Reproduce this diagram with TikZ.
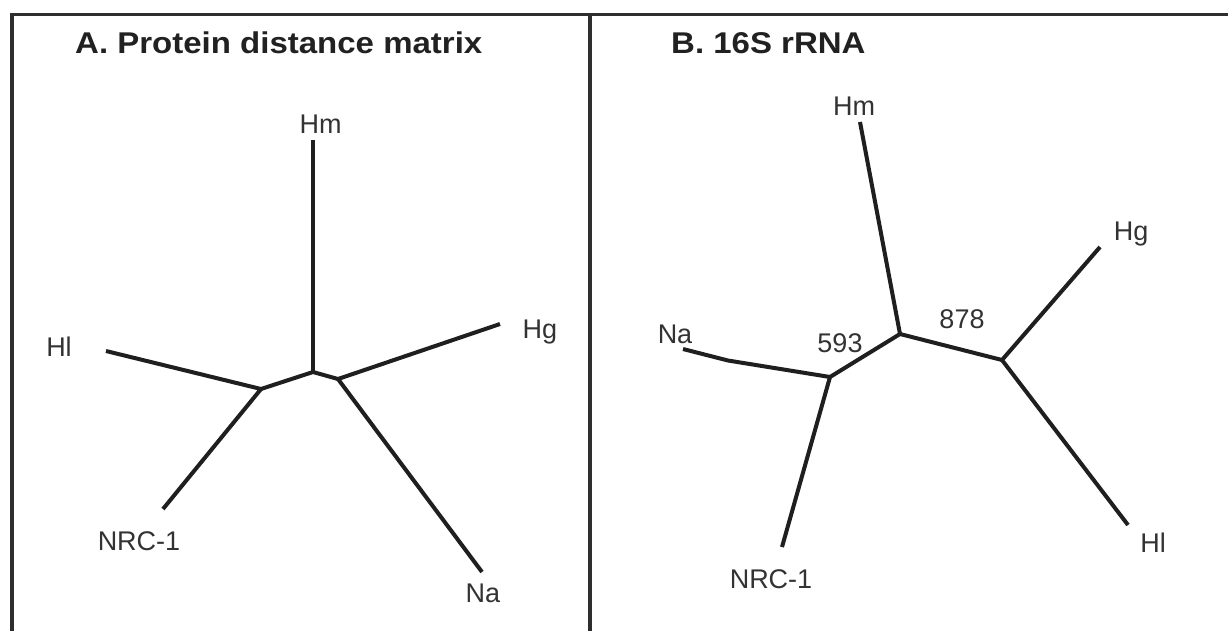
\documentclass[tikz,border=0pt]{standalone}
\usepackage{fontspec}
\setmainfont{Liberation Sans}
\newfontfamily\titlefont[FakeStretch=1.1]{Liberation Sans}
\begin{document}
\begin{tikzpicture}[x=1pt,y=-1pt,
  frame/.style={line width=3.8pt,draw=black!82},
  branch/.style={line width=4pt,draw=black!88,line cap=butt,line join=miter},
  taxon/.style={font=\fontsize{27}{27}\selectfont,text=black!80,anchor=base,inner sep=0pt},
  boot/.style={font=\fontsize{27}{27}\selectfont,text=black!80,anchor=base,inner sep=0pt},
  paneltitle/.style={font=\titlefont\bfseries\fontsize{30}{30}\selectfont,text=black!87,anchor=base west,inner sep=0pt}]
\useasboundingbox[fill=white] (0,0) rectangle (1228,630);
% frame
\coordinate (fTL) at (12,14.5);
\coordinate (fTR) at (1230,14.5);
\coordinate (fBL) at (12,632);
\coordinate (dT) at (590,14.5);
\coordinate (dB) at (590,632);
\draw[frame] (fBL) -- (fTL) -- (fTR);
\draw[frame] (dT) -- (dB);
% titles
\node[paneltitle] (tA) at (75,53.5) {A. Protein distance matrix};
\node[paneltitle] (tB) at (671,53.5) {B. 16S rRNA};
% ---------- Panel A ----------
\coordinate (a1) at (313,372);
\coordinate (a2) at (261,389);
\coordinate (a3) at (338,379);
\coordinate (aHm) at (313,140);
\coordinate (aHl) at (106,351);
\coordinate (aNRC) at (163,509);
\coordinate (aHg) at (500,324);
\coordinate (aNa) at (482,572);
\draw[branch] (aHm) -- (a1);
\draw[branch] (a2) -- (a1) -- (a3);
\draw[branch] (aHl) -- (a2) -- (aNRC);
\draw[branch] (aHg) -- (a3) -- (aNa);
\node[taxon] (lAHm) at (320.5,133) {Hm};
\node[taxon] (lAHl) at (59,356) {Hl};
\node[taxon] (lAHg) at (540,338) {Hg};
\node[taxon] (lANRC) at (139,550) {NRC-1};
\node[taxon] (lANa) at (483,602) {Na};
% ---------- Panel B ----------
\coordinate (b1) at (830,377);
\coordinate (b2) at (900,334);
\coordinate (b3) at (1002,360);
\coordinate (bHm) at (860,122);
\coordinate (bHg) at (1100,247);
\coordinate (bHl) at (1128,525);
\coordinate (bNRC) at (782,547);
\coordinate (bNa) at (683,349);
\coordinate (bNak) at (728,360.5);
\draw[branch] (bNa) -- (bNak) -- (b1);
\draw[branch] (b1) -- (b2) -- (b3);
\draw[branch] (bHm) -- (b2);
\draw[branch] (b1) -- (bNRC);
\draw[branch] (bHg) -- (b3) -- (bHl);
\node[taxon] (lBHm) at (854,115) {Hm};
\node[taxon] (lBHg) at (1131,240) {Hg};
\node[taxon] (lBNa) at (675,343) {Na};
\node[taxon] (lBNRC) at (771,588) {NRC-1};
\node[taxon] (lBHl) at (1153,552) {Hl};
\node[boot] (n593) at (840,352.5) {593};
\node[boot] (n878) at (962,328) {878};
\end{tikzpicture}
\end{document}
